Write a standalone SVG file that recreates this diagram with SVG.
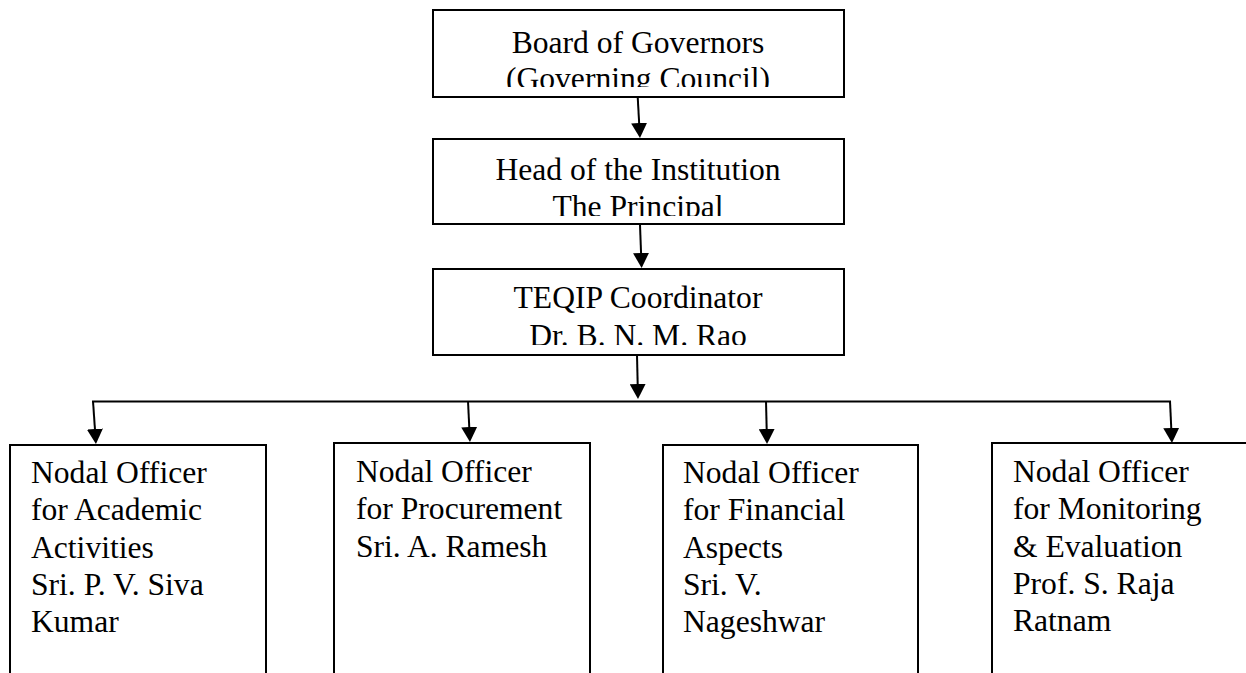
<svg xmlns="http://www.w3.org/2000/svg" width="1246" height="673" viewBox="0 0 1246 673">
<style>
.box{fill:#fff;stroke:#000;stroke-width:2}
.t{font-family:"Liberation Serif","Times New Roman",serif;font-size:31.6px;fill:#000}
.c{text-anchor:middle}
.ln{stroke:#000;stroke-width:2;fill:none}
</style>
<defs>
<marker id="ah" viewBox="0 0 15 16" refX="1" refY="8" markerWidth="15" markerHeight="16" markerUnits="userSpaceOnUse" orient="auto">
<path d="M0,0 L15,8 L0,16 z" fill="#000"/>
</marker>
<clipPath id="c1"><rect x="433" y="10" width="411" height="77"/></clipPath>
<clipPath id="c2"><rect x="433" y="139" width="411" height="77"/></clipPath>
<clipPath id="c3"><rect x="433" y="269" width="411" height="76"/></clipPath>
</defs>
<rect width="1246" height="673" fill="#fff"/>
<g id="connectors">
<line class="ln" x1="637.7" y1="97" x2="639.2" y2="124" marker-end="url(#ah)"/>
<line class="ln" x1="640" y1="225" x2="641.1" y2="254" marker-end="url(#ah)"/>
<line class="ln" x1="637" y1="355" x2="637.7" y2="385" marker-end="url(#ah)"/>
<line class="ln" x1="92" y1="401.5" x2="1171" y2="401.5"/>
<line class="ln" x1="93" y1="401" x2="95" y2="430" marker-end="url(#ah)"/>
<line class="ln" x1="468" y1="401" x2="469.3" y2="428" marker-end="url(#ah)"/>
<line class="ln" x1="766" y1="401" x2="766.7" y2="430" marker-end="url(#ah)"/>
<line class="ln" x1="1170" y1="401" x2="1171.3" y2="429" marker-end="url(#ah)"/>
</g>
<g id="board">
<rect class="box" x="433" y="10" width="411" height="87"/>
<g clip-path="url(#c1)">
<text class="t c" x="638" y="53">Board of Governors</text>
<text class="t c" x="638" y="89">(Governing Council)</text>
</g>
</g>
<g id="head">
<rect class="box" x="433" y="139" width="411" height="85"/>
<g clip-path="url(#c2)">
<text class="t c" x="638" y="180">Head of the Institution</text>
<text class="t c" x="638" y="217">The Principal</text>
</g>
</g>
<g id="coordinator">
<rect class="box" x="433" y="269" width="411" height="86"/>
<g clip-path="url(#c3)">
<text class="t c" x="638" y="308">TEQIP Coordinator</text>
<text class="t c" x="638" y="346">Dr. B. N. M. Rao</text>
</g>
</g>
<g id="academic">
<rect class="box" x="10" y="445" width="256" height="260"/>
<text class="t" x="31" y="483">Nodal Officer</text>
<text class="t" x="31" y="520">for Academic</text>
<text class="t" x="31" y="557.5">Activities</text>
<text class="t" x="31" y="595">Sri. P. V. Siva</text>
<text class="t" x="31" y="632">Kumar</text>
</g>
<g id="procurement">
<rect class="box" x="334" y="443" width="256" height="260"/>
<text class="t" x="356" y="482">Nodal Officer</text>
<text class="t" x="356" y="519">for Procurement</text>
<text class="t" x="356" y="556.5">Sri. A. Ramesh</text>
</g>
<g id="financial">
<rect class="box" x="663" y="445" width="255" height="260"/>
<text class="t" x="683" y="483">Nodal Officer</text>
<text class="t" x="683" y="520">for Financial</text>
<text class="t" x="683" y="557.5">Aspects</text>
<text class="t" x="683" y="595">Sri. V.</text>
<text class="t" x="683" y="632">Nageshwar</text>
</g>
<g id="monitoring">
<rect class="box" x="992" y="443" width="262" height="260"/>
<text class="t" x="1013" y="482">Nodal Officer</text>
<text class="t" x="1013" y="519">for Monitoring</text>
<text class="t" x="1013" y="556.5">&amp; Evaluation</text>
<text class="t" x="1013" y="594">Prof. S. Raja</text>
<text class="t" x="1013" y="631">Ratnam</text>
</g>
</svg>
